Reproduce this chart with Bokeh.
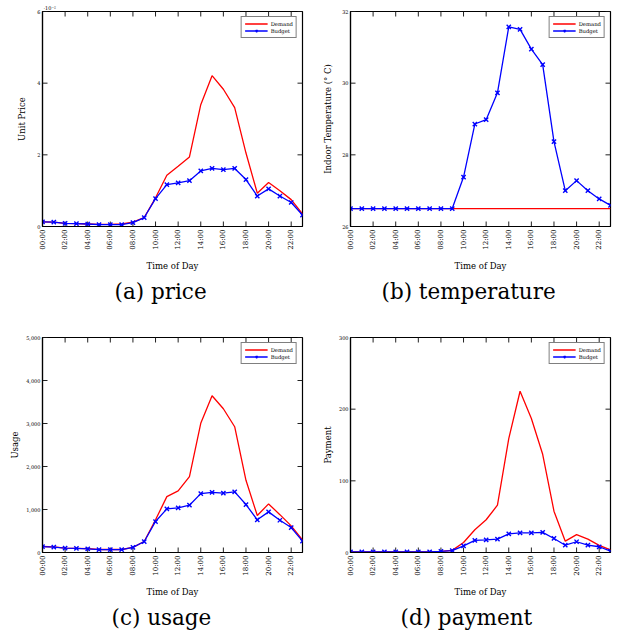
import math
from bokeh.plotting import figure
from bokeh.models import (FixedTicker, NumeralTickFormatter, Title,
                          Range1d, Legend, LegendItem)
from bokeh.layouts import column, row
from bokeh.embed import file_html
from bokeh.resources import INLINE

# ---------------- data ----------------
hours = [0, 1, 2, 3, 4, 5, 6, 7, 8, 9, 10, 11, 12, 13, 14, 15, 16, 17, 18, 19, 20, 21, 22, 23]
hour_ticks = [0, 2, 4, 6, 8, 10, 12, 14, 16, 18, 20, 22]
hour_tick_labels = ["00:00", "02:00", "04:00", "06:00", "08:00", "10:00",
                    "12:00", "14:00", "16:00", "18:00", "20:00", "22:00"]

# unit price, in units of 10^-2
price_demand = [0.13, 0.12, 0.09, 0.08, 0.07, 0.06, 0.06, 0.07, 0.12, 0.25, 0.80, 1.43,
                1.68, 1.94, 3.40, 4.21, 3.83, 3.32, 2.05, 0.93, 1.23, 1.00, 0.75, 0.35]
price_budget = [0.13, 0.12, 0.09, 0.08, 0.07, 0.05, 0.05, 0.05, 0.11, 0.25, 0.78, 1.17,
                1.22, 1.28, 1.55, 1.62, 1.59, 1.62, 1.31, 0.85, 1.05, 0.85, 0.67, 0.32]
price_ticks = [0, 2, 4, 6]

temp_demand = [26.5, 26.5, 26.5, 26.5, 26.5, 26.5, 26.5, 26.5, 26.5, 26.5, 26.5, 26.5,
               26.5, 26.5, 26.5, 26.5, 26.5, 26.5, 26.5, 26.5, 26.5, 26.5, 26.5, 26.5]
temp_budget = [26.5, 26.5, 26.5, 26.5, 26.5, 26.5, 26.5, 26.5, 26.5, 26.5, 27.38, 28.86,
               28.98, 29.73, 31.57, 31.50, 30.95, 30.52, 28.37, 27.00, 27.28, 27.00, 26.77, 26.59]
temp_ticks = [26, 28, 30, 32]

usage_demand = [140, 130, 100, 95, 90, 70, 70, 70, 120, 255, 760, 1300,
                1432, 1764, 3004, 3645, 3343, 2925, 1680, 860, 1130, 880, 620, 295]
usage_budget = [135, 125, 100, 95, 85, 65, 65, 65, 120, 255, 720, 1015,
                1040, 1100, 1370, 1400, 1380, 1410, 1115, 760, 945, 750, 580, 265]
usage_ticks = [0, 1000, 2000, 3000, 4000, 5000]

pay_demand = [1, 1, 1, 1, 1, 1, 1, 1, 1.5, 3, 14, 31.7,
              45.7, 66, 159, 225, 187, 137, 57.7, 15.8, 25, 18.6, 10, 3.7]
pay_budget = [1, 1, 1, 1, 1, 1, 1, 1, 1.5, 2.5, 9.3, 16.8,
              17.5, 18.6, 26, 27.5, 27.5, 28, 19.6, 10.2, 15, 10.2, 8, 1.9]
pay_ticks = [0, 100, 200, 300]

SERIF = "DejaVu Serif"
X_MIN, X_MAX = 0, 23
FRAME_W, FRAME_H = 260, 215   # approximate plot-area size in px
TICK_PX = 5                   # inward tick length in px


def style_axis(ax, ticks):
    ax.ticker = FixedTicker(ticks=ticks)
    ax.major_tick_in = 0
    ax.major_tick_out = 0
    ax.minor_tick_in = 0
    ax.minor_tick_out = 0
    ax.axis_line_color = "black"
    ax.axis_line_width = 1.2
    ax.major_label_text_color = "black"
    ax.axis_label_text_color = "black"


def inward_ticks(p, y_rng, y_ticks):
    # pgfplots-style inward tick marks on all four sides of the frame
    nx, ny = len(hour_ticks), len(y_ticks)
    ty = (y_rng[1] - y_rng[0]) * TICK_PX / FRAME_H
    tx = (X_MAX - X_MIN) * TICK_PX / FRAME_W
    kw = dict(line_color="#222222", line_width=1.0)
    p.segment(x0=hour_ticks, y0=[y_rng[0]] * nx, x1=hour_ticks, y1=[y_rng[0] + ty] * nx, **kw)
    p.segment(x0=hour_ticks, y0=[y_rng[1]] * nx, x1=hour_ticks, y1=[y_rng[1] - ty] * nx, **kw)
    p.segment(x0=[X_MIN] * ny, y0=y_ticks, x1=[X_MIN + tx] * ny, y1=y_ticks, **kw)
    p.segment(x0=[X_MAX] * ny, y0=y_ticks, x1=[X_MAX - tx] * ny, y1=y_ticks, **kw)


def make_panel(demand, budget, y_rng, y_ticks, ylabel, caption, width, height,
               bl, br, bt, bb, cap_offset, ylab_standoff, y_fmt=None):
    p = figure(width=width, height=height, x_range=Range1d(X_MIN, X_MAX),
               y_range=Range1d(y_rng[0], y_rng[1]), output_backend="svg",
               toolbar_location=None, min_border_left=bl, min_border_right=br,
               min_border_top=bt, min_border_bottom=bb,
               title=caption, title_location="below")
    p.grid.visible = False
    p.outline_line_color = "black"
    p.outline_line_width = 1.2

    inward_ticks(p, y_rng, y_ticks)

    r1 = p.line(hours, demand, line_color="#ff0000", line_width=1.3)
    r2 = p.line(hours, budget, line_color="#0000ff", line_width=1.3)
    r3 = p.scatter(hours, budget, marker="x", size=6, line_color="#0000ff", line_width=1.4)

    leg = Legend(items=[LegendItem(label="Demand", renderers=[r1]),
                        LegendItem(label="Budget", renderers=[r2, r3])],
                 location="top_right", margin=5, padding=3, spacing=0,
                 label_text_font=SERIF, label_text_font_size="5.3px",
                 label_text_color="black",
                 label_height=7, glyph_height=7, glyph_width=23, label_standoff=3,
                 border_line_color="black", border_line_width=1.2,
                 background_fill_alpha=1)
    p.add_layout(leg)

    xa = p.xaxis[0]
    style_axis(xa, hour_ticks)
    xa.major_label_overrides = dict(zip(hour_ticks, hour_tick_labels))
    xa.major_label_orientation = math.pi / 2
    xa.major_label_text_font = SERIF
    xa.major_label_text_font_size = "7px"
    xa.major_label_standoff = 3
    xa.axis_label = "Time of Day"
    xa.axis_label_text_font = SERIF
    xa.axis_label_text_font_size = "8.5px"
    xa.axis_label_text_font_style = "normal"
    xa.axis_label_standoff = 8

    ya = p.yaxis[0]
    style_axis(ya, y_ticks)
    if y_fmt is not None:
        ya.formatter = y_fmt
    ya.major_label_text_font = SERIF
    ya.major_label_text_font_size = "5px"
    ya.major_label_standoff = 2
    ya.axis_label = ylabel
    ya.axis_label_text_font = SERIF
    ya.axis_label_text_font_size = "8.5px"
    ya.axis_label_text_font_style = "normal"
    ya.axis_label_standoff = ylab_standoff

    p.title.text_font = SERIF
    p.title.text_font_size = "21.5px"
    p.title.text_font_style = "normal"
    p.title.text_color = "black"
    p.title.align = "left"
    p.title.offset = cap_offset
    p.title.standoff = 6
    return p


pa = make_panel(price_demand, price_budget, (0, 6), price_ticks, "Unit Price",
                "(a) price", 310, 306, 42, 8, 11, 80, 72, 7)
pa.add_layout(Title(text="·10⁻²", align="left", offset=1, standoff=1,
                    text_font=SERIF, text_font_size="5px", text_font_style="normal",
                    text_color="black"), "above")
pb = make_panel(temp_demand, temp_budget, (26, 32), temp_ticks,
                "Indoor Temperature (° C)", "(b) temperature", 308, 306, 40, 8, 11, 80, 31, 6)
pc = make_panel(usage_demand, usage_budget, (0, 5000), usage_ticks, "Usage",
                "(c) usage", 310, 326, 42, 8, 31, 80, 69, 3,
                y_fmt=NumeralTickFormatter(format="0,0"))
pd_ = make_panel(pay_demand, pay_budget, (0, 300), pay_ticks, "Payment",
                 "(d) payment", 308, 326, 40, 8, 31, 80, 50, 3)

layout = column(row(pa, pb), row(pc, pd_))
open("out.html", "w").write(file_html(layout, INLINE))
